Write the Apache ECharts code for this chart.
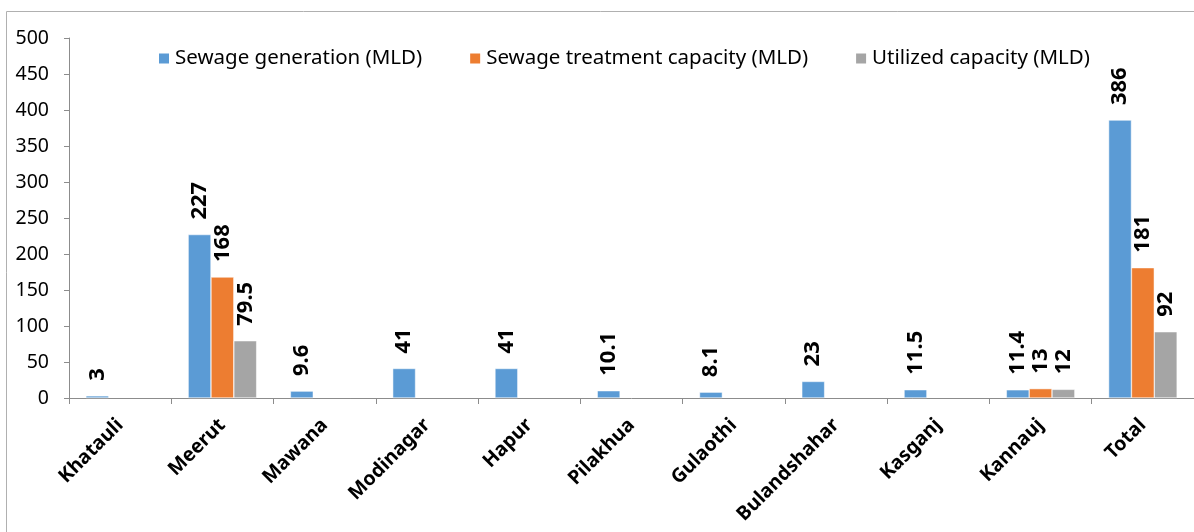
<!DOCTYPE html>
<html><head><meta charset="utf-8">
<script src="https://cdn.jsdelivr.net/npm/echarts@6/dist/echarts.min.js"></script>
<style>html,body{margin:0;padding:0;background:#fff}#c{width:1194px;height:532px}</style>
</head><body><div id="c"></div>
<script>
const categories = ['Khatauli','Meerut','Mawana','Modinagar','Hapur','Pilakhua','Gulaothi','Bulandshahar','Kasganj','Kannauj','Total'];
const sewageGeneration = [3, 227, 9.6, 41, 41, 10.1, 8.1, 23, 11.5, 11.4, 386];
const treatmentCapacity = [null, 168, null, null, null, null, null, null, null, 13, 181];
const utilizedCapacity = [null, 79.5, null, null, null, null, null, null, null, 12, 92];
const yTicks = [0, 50, 100, 150, 200, 250, 300, 350, 400, 450, 500];

const FONT = 'Noto Sans';
const chart = echarts.init(document.getElementById('c'), null, {renderer: 'canvas'});
const label = {
  show: true, position: 'top', rotate: 90, align: 'left', verticalAlign: 'middle',
  distance: 15, fontFamily: FONT, fontWeight: 'bold', fontSize: 22, color: '#000'
};
function mk(name, data, color) {
  return {name, type: 'bar', data, barGap: '0%', barCategoryGap: '33%',
    itemStyle: {color, borderColor: '#fff', borderWidth: 0.5}, label};
}
chart.setOption({
  animation: false,
  graphic: [{type: 'rect', shape: {x: 6.5, y: 11.5, width: 1200, height: 540},
    style: {fill: 'none', stroke: '#b0b0b0', lineWidth: 1}, silent: true}],
  legend: {
    top: 43, left: 152, itemWidth: 12, itemHeight: 12, itemGap: 46,
    textStyle: {fontFamily: FONT, fontSize: 20.5, color: '#000'},
    icon: 'rect'
  },
  grid: {left: 69, top: 38, width: 1130, height: 360, containLabel: false},
  xAxis: {
    type: 'category', data: categories,
    axisLine: {lineStyle: {color: '#8c8c8c', width: 1}},
    axisTick: {show: true, length: 6, alignWithLabel: false, lineStyle: {color: '#8c8c8c'}},
    axisLabel: {rotate: 45, margin: 24, fontFamily: FONT, fontWeight: 'bold', fontSize: 19.5, color: '#000', interval: 0}
  },
  yAxis: {
    type: 'value', min: yTicks[0], max: yTicks[yTicks.length - 1], interval: 50,
    axisLine: {show: true, lineStyle: {color: '#8c8c8c'}},
    axisTick: {show: true, length: 5, lineStyle: {color: '#8c8c8c'}},
    splitLine: {show: false},
    axisLabel: {margin: 20, fontFamily: FONT, fontSize: 19.5, color: '#000'}
  },
  series: [
    mk('Sewage generation (MLD)', sewageGeneration, '#5B9BD5'),
    mk('Sewage treatment capacity (MLD)', treatmentCapacity, '#ED7D31'),
    mk('Utilized capacity (MLD)', utilizedCapacity, '#A5A5A5')
  ]
});
</script></body></html>
